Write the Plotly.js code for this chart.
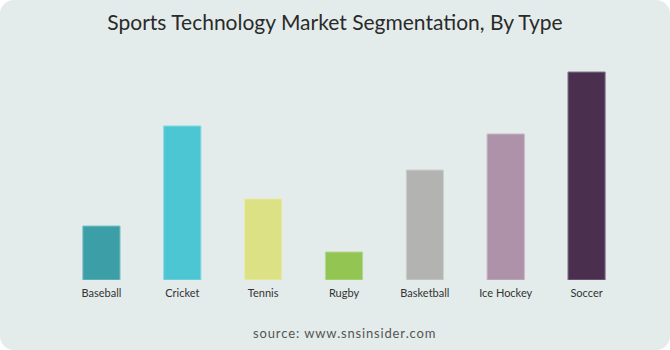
<!DOCTYPE html>
<html>
<head>
<meta charset="utf-8">
<script src="https://cdn.plot.ly/plotly-3.0.1.min.js"></script>
<style>
html,body{margin:0;padding:0;background:#ffffff;}
#wrap{width:670px;height:350px;background:#e3ecea;border-radius:14px;overflow:hidden;}
#chart{width:670px;height:350px;}
</style>
</head>
<body>
<div id="wrap"><div id="chart"></div></div>
<script>
const categories = ["Baseball","Cricket","Tennis","Rugby","Basketball","Ice Hockey","Soccer"];
const values = [5.4, 15.4, 8.1, 2.8, 11.0, 14.6, 20.8];
const colors = ["#3c9ea6","#4cc6d3","#dbe184","#92c552","#b3b4b2","#ad92a9","#4a2f4f"];
const outlines = ["#7fc1c6","#86d9e2","#e8ecaa","#b6d98e","#cfd0ce","#c9b4c6","#8a7690"];
const titleText = "Sports Technology Market Segmentation, By Type";
const sourceText = "source: www.snsinsider.com";

const trace = {
  type: "bar",
  x: categories,
  y: values,
  marker: {color: colors, line: {color: outlines, width: 1}},
  hoverinfo: "x+y"
};
const layout = {
  width: 670, height: 350,
  paper_bgcolor: "rgba(0,0,0,0)",
  plot_bgcolor: "rgba(0,0,0,0)",
  margin: {l: 61, r: 43, t: 60, b: 70},
  bargap: 0.54,
  showlegend: false,
  font: {family: "Lato, 'DejaVu Sans', sans-serif", color: "#333"},
  title: {text: titleText, x: 0.5, xanchor: "center", y: 0.935, yanchor: "middle",
          font: {size: 21, color: "#2a2a2a", family: "Lato, 'DejaVu Sans', sans-serif", weight: 400}},
  xaxis: {showgrid: false, zeroline: false, showline: false, ticks: "", ticklabelstandoff: 5,
          tickfont: {size: 11, color: "#333"}, fixedrange: true},
  yaxis: {range: [0, 22], visible: false, showgrid: false, zeroline: false, fixedrange: true},
  annotations: [{
    text: sourceText.split("").join("\u200A"), xref: "paper", yref: "paper",
    x: 0.5, y: -0.24, xanchor: "center", yanchor: "middle", showarrow: false,
    font: {size: 13, color: "#555"}
  }]
};
Plotly.newPlot("chart", [trace], layout, {displayModeBar: false, staticPlot: true});
</script>
</body>
</html>
